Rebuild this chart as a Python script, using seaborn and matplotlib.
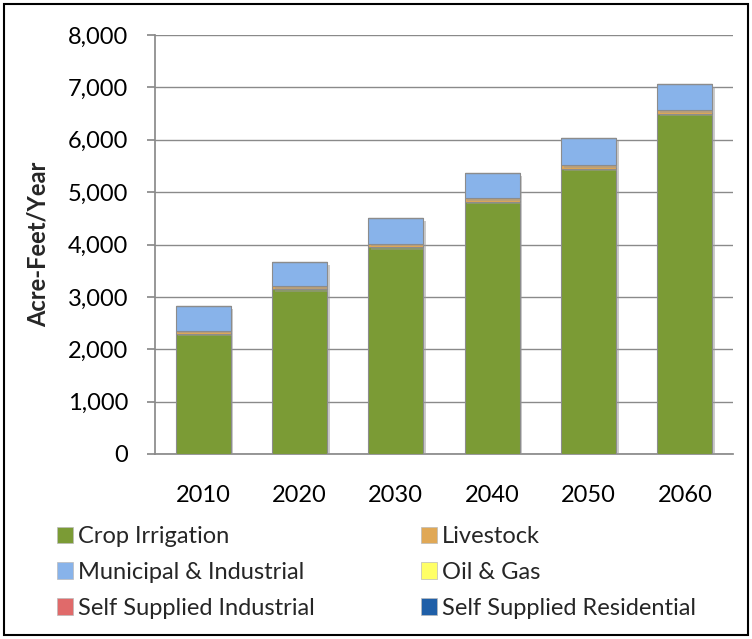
import matplotlib
matplotlib.use("Agg")
import matplotlib.pyplot as plt
import matplotlib.patheffects as pe
from matplotlib.patches import Patch, Rectangle
from matplotlib.ticker import FuncFormatter
import numpy as np
import seaborn as sns

years = ["2010", "2020", "2030", "2040", "2050", "2060"]
crop_irrigation = [2300, 3150, 3950, 4820, 5450, 6500]
livestock = [55, 60, 65, 65, 70, 70]
municipal_industrial = [475, 455, 495, 485, 510, 490]
oil_gas = [0, 0, 0, 0, 0, 0]
self_supplied_industrial = [0, 0, 0, 0, 0, 0]
self_supplied_residential = [0, 0, 0, 0, 0, 0]

series = [
    ("Crop Irrigation", crop_irrigation, "#7B9B35"),
    ("Livestock", livestock, "#E0A856"),
    ("Municipal & Industrial", municipal_industrial, "#88B3EA"),
    ("Oil & Gas", oil_gas, "#FFFF66"),
    ("Self Supplied Industrial", self_supplied_industrial, "#E06A6A"),
    ("Self Supplied Residential", self_supplied_residential, "#1F5FA8"),
]

sns.set_theme(style="white")
plt.rcParams["font.family"] = ["Lato", "DejaVu Sans"]

W, H = 752, 639
fig = plt.figure(figsize=(W / 100, H / 100), dpi=100)
ax = fig.add_axes([155 / W, 1 - 454 / H, (733 - 155) / W, (454 - 35) / H])

# stacked bars, one seaborn call per water-use category
bottom = np.zeros(len(years))
shadow = [pe.SimplePatchShadow(offset=(2, -2), shadow_rgbFace="#999999", alpha=0.5), pe.Normal()]
for name, vals, col in series:
    vals = np.asarray(vals, dtype=float)
    sns.barplot(x=years, y=vals, bottom=bottom, color=col, width=0.57,
                edgecolor="#8C8C8C", linewidth=0.8, saturation=1, ax=ax, zorder=3)
    bottom = bottom + vals

for p in ax.patches:
    if p.get_height() > 0:
        p.set_path_effects(shadow)

ax.set_ylim(0, 8000)
ax.set_yticks(np.arange(0, 8001, 1000))
ax.yaxis.set_major_formatter(FuncFormatter(lambda v, _: f"{int(v):,}"))
ax.grid(axis="y", color="#8A8A8A", linewidth=1.0, zorder=0)
ax.set_axisbelow(True)
for s in ["top", "right"]:
    ax.spines[s].set_visible(False)
ax.spines["left"].set_color("#8A8A8A")
ax.spines["bottom"].set_color("#8A8A8A")
ax.tick_params(axis="y", which="major", left=True, length=5.8, color="#8A8A8A",
               labelsize=17, pad=13.5, labelcolor="black")
ax.tick_params(axis="x", bottom=False, labelsize=17, pad=16, labelcolor="black")
ax.set_xlabel("")
ax.set_ylabel("Acre-Feet/Year", fontsize=17, fontweight="bold")
ax.yaxis.set_label_coords(-0.182, 0.5)

# legend in two columns
handles = [Patch(facecolor=c, edgecolor="#BBBBBB", linewidth=0.5) for _, _, c in series]
labels = [n for n, _, _ in series]
legend_kw = dict(loc="upper left", frameon=False, fontsize=17, handlelength=0.68,
                 handleheight=0.68, handletextpad=0.22, labelspacing=0.63,
                 borderpad=0, borderaxespad=0)
for cols, x0 in (([0, 2, 4], 57), ([1, 3, 5], 421)):
    fig.legend([handles[i] for i in cols], [labels[i] for i in cols],
               bbox_to_anchor=(x0 / W, 1 - 526 / H), **legend_kw)

fig.patches.append(Rectangle((4 / W, 4 / H), 744 / W, 631 / H,
                             transform=fig.transFigure, fill=False,
                             edgecolor="black", linewidth=1.5))

fig.savefig("out.png", dpi=100)
